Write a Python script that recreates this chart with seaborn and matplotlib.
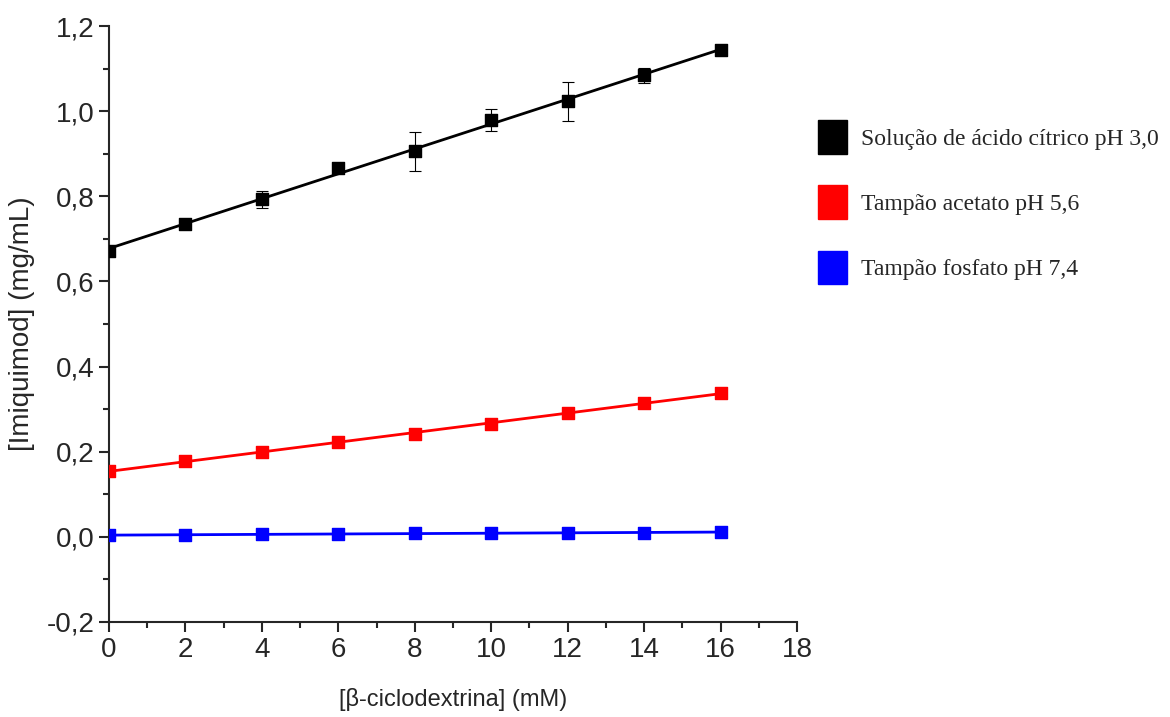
import numpy as np
import pandas as pd
import seaborn as sns
import matplotlib
matplotlib.use("Agg")
from matplotlib import pyplot as plt
from matplotlib.patches import Patch
from matplotlib.ticker import MultipleLocator, FuncFormatter

# dados
conc = [0, 2, 4, 6, 8, 10, 12, 14, 16]
citrico = [0.672, 0.735, 0.793, 0.866, 0.906, 0.979, 1.023, 1.084, 1.144]
citrico_err = [0.0, 0.0, 0.02, 0.0, 0.046, 0.025, 0.045, 0.018, 0.0]
acetato = [0.155, 0.178, 0.199, 0.223, 0.242, 0.265, 0.291, 0.315, 0.338]
fosfato = [0.004, 0.005, 0.006, 0.007, 0.008, 0.008, 0.009, 0.010, 0.012]

labels = ["Solução de ácido cítrico pH 3,0", "Tampão acetato pH 5,6", "Tampão fosfato pH 7,4"]
cores = ["black", "red", "blue"]

sns.set_style("ticks")
plt.rcParams['font.family'] = ['Liberation Sans Narrow', 'Liberation Sans', 'DejaVu Sans']

fig = plt.figure(figsize=(11.7, 7.17), dpi=100)
ax = fig.add_axes([0.0932, 0.1325, 0.588, 0.8312])

# pontos + reta de regressão linear para cada meio
for serie, cor in zip([citrico, acetato, fosfato], cores):
    df = pd.DataFrame({"x": conc, "y": serie})
    sns.regplot(data=df, x="x", y="y", ax=ax, ci=None, marker="s", color=cor,
                scatter_kws={"s": 70, "alpha": 1, "zorder": 3},
                line_kws={"lw": 2, "zorder": 2})

ax.errorbar(conc, citrico, yerr=citrico_err, fmt="none", ecolor="black",
            elinewidth=0.8, capsize=4, capthick=0.8, zorder=4)

ax.set_xlim(0, 18)
ax.set_ylim(-0.2, 1.2)
ax.xaxis.set_major_locator(MultipleLocator(2))
ax.xaxis.set_minor_locator(MultipleLocator(1))
ax.yaxis.set_major_locator(MultipleLocator(0.2))
ax.yaxis.set_minor_locator(MultipleLocator(0.1))
ax.yaxis.set_major_formatter(FuncFormatter(lambda v, p: f"{v:.1f}".replace(".", ",").replace("-0,0", "0,0")))
ax.tick_params(which="major", length=7, width=1.5, labelsize=20, direction="out")
ax.tick_params(which="minor", length=4, width=1.5, direction="out")
for s in ["left", "bottom"]:
    ax.spines[s].set_linewidth(1.5)
sns.despine(ax=ax)

ax.set_xlabel("[β-ciclodextrina] (mM)", fontsize=17, labelpad=18)
ax.set_ylabel("[Imiquimod] (mg/mL)", fontsize=20, labelpad=8)

handles = [Patch(facecolor=c, edgecolor=c) for c in cores]
fig.legend(handles, labels, loc="upper left", bbox_to_anchor=(0.681, 0.862),
           frameon=False, handlelength=1.23, handleheight=1.8, labelspacing=1.35,
           handletextpad=0.6, prop={"family": "Liberation Serif", "size": 17})

fig.savefig("out.png", dpi=100)
